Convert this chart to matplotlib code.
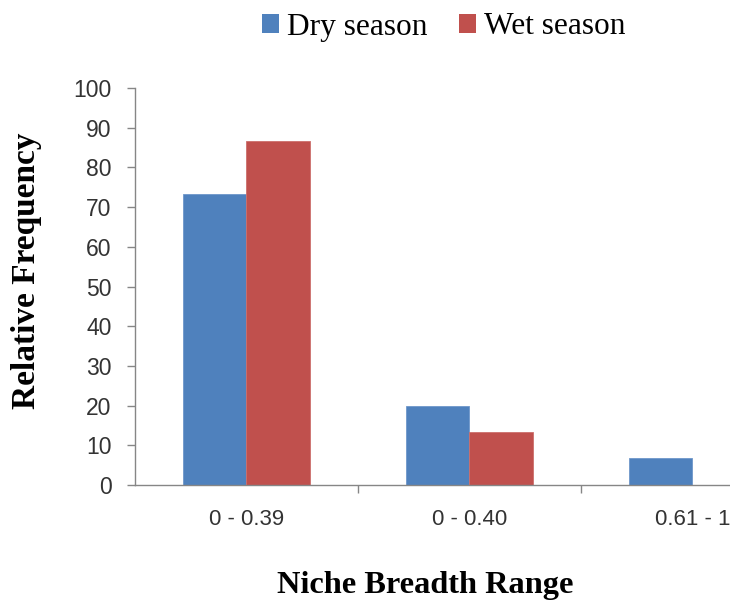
import numpy as np
import matplotlib
matplotlib.use("Agg")
import matplotlib.pyplot as plt
from matplotlib.patches import Patch

# -------------------------------------------------
# DATA
# -------------------------------------------------
categories = ["0 - 0.39", "0 - 0.40", "0.61 - 1"]
dry_season = [73.3, 20.0, 6.7]
wet_season = [86.7, 13.3, 0.0]
y_ticks = list(range(0, 101, 10))

BLUE = "#4F81BD"
RED = "#C0504D"
AXIS_GREY = "#868686"
TEXT_GREY = "#333333"

W, H = 730, 604
fig = plt.figure(figsize=(W / 100, H / 100), dpi=100)

# axes runs past the right edge of the picture (cropped chart)
left, right, bottom, top = 135, 804, 485, 88
ax = fig.add_axes([left / W, 1 - bottom / H, (right - left) / W, (bottom - top) / H])

x = np.arange(len(categories))
bw = 0.283
ax.bar(x - bw / 2, dry_season, bw, color=BLUE, edgecolor="#6F97CA", linewidth=0.6)
ax.bar(x + bw / 2, wet_season, bw, color=RED, edgecolor="#CD6F6C", linewidth=0.6)

ax.set_xlim(-0.5, 2.5)
ax.set_ylim(0, 100)

# -------------------------------------------------
# AXES STYLE
# -------------------------------------------------
for side in ("top", "right"):
    ax.spines[side].set_visible(False)
for side in ("left", "bottom"):
    ax.spines[side].set_color(AXIS_GREY)
    ax.spines[side].set_linewidth(1.0)

ax.set_yticks(y_ticks)
ax.tick_params(axis="y", direction="out", length=6, width=1, color=AXIS_GREY,
               pad=11, labelsize=16.5, labelcolor=TEXT_GREY)
for lab in ax.get_yticklabels():
    lab.set_family("Liberation Sans")

ax.set_xticks(x)
ax.set_xticklabels(categories, family="Liberation Sans")
ax.tick_params(axis="x", which="major", length=0, pad=17, labelsize=16,
               labelcolor=TEXT_GREY)
ax.set_xticks([0.5, 1.5], minor=True)
ax.tick_params(axis="x", which="minor", direction="out", length=6, width=1,
               color=AXIS_GREY)

# -------------------------------------------------
# LABELS / LEGEND
# -------------------------------------------------
fig.text(27 / W, 1 - 271 / H, "Relative Frequency", rotation=90,
         ha="center", va="center", fontsize=24, fontweight="bold",
         family="Liberation Serif")
fig.text(425 / W, 4 / H, "Niche Breadth Range",
         ha="center", va="bottom", fontsize=23.3, fontweight="bold",
         family="Liberation Serif")

handles = [
    Patch(facecolor=BLUE, edgecolor="none", label="Dry season"),
    Patch(facecolor=RED, edgecolor="none", label="Wet season"),
]
fig.legend(handles=handles, loc="center", bbox_to_anchor=(444 / W, 1 - 27 / H),
           ncol=2, frameon=False, handlelength=0.55, handleheight=0.55,
           handletextpad=0.25, columnspacing=1.0,
           prop={"family": "Liberation Serif", "size": 22.6})

fig.savefig("out.png", dpi=100)
